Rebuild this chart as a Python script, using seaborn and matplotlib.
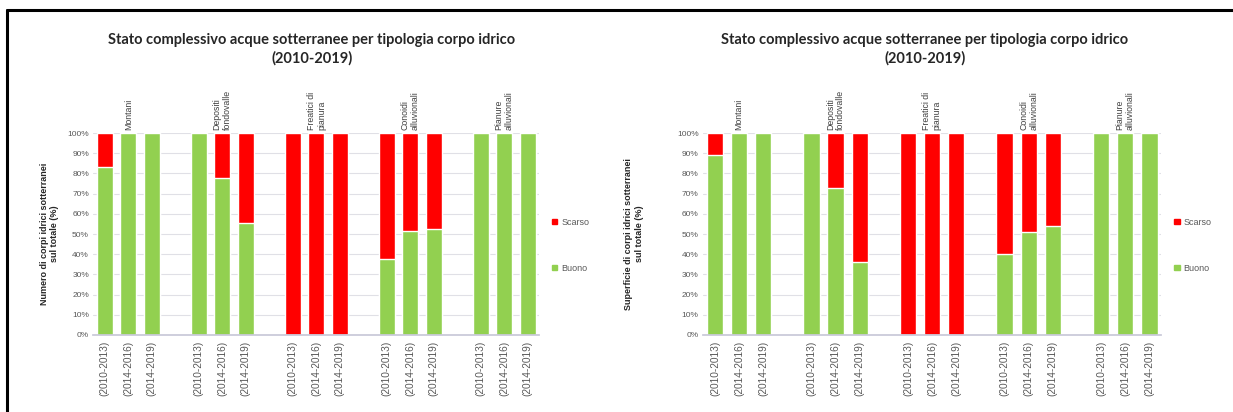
import pandas as pd
import seaborn as sns
import matplotlib.pyplot as plt
from matplotlib.patches import Patch
from matplotlib.lines import Line2D

sns.set_theme(style="white")
plt.rcParams["font.family"] = ["Liberation Sans", "DejaVu Sans"]

# dati (% di corpi idrici in stato "Buono")
tipologie = ["Montani", "Depositi\nfondovalle", "Freatici di\npianura",
             "Conoidi\nalluvionali", "Pianure\nalluvionali"]
periodi = ["(2010-2013)", "(2014-2016)", "(2014-2019)"]
buono_numero = [83.3, 100, 100, 100, 77.8, 55.6, 0, 0, 0, 37.5, 51.5, 52.6, 100, 100, 100]
buono_superficie = [89, 100, 100, 100, 73, 36, 0, 0, 0, 40, 51, 54, 100, 100, 100]
totale = 100

titolo = "Stato complessivo acque sotterranee per tipologia corpo idrico\n(2010-2019)"
ylabel_numero = "Numero di corpi idrici sotterranei\nsul totale (%)"
ylabel_superficie = "Superficie di corpi idrici sotterranei\nsul totale (%)"

ROSSO = "#FF0000"
VERDE = "#92D050"
GRIGIO = "#595959"


def build_df(buono):
    rows = []
    order = []
    for i, tip in enumerate(tipologie):
        for j, per in enumerate(periodi):
            slot = f"{i}-{j}"
            order.append(slot)
            rows.append(dict(slot=slot, tipologia=tip, periodo=per,
                             buono=buono[i * 3 + j], totale=totale))
        if i < len(tipologie) - 1:
            order.append(f"gap{i}")
    return pd.DataFrame(rows), order


def draw_panel(ax, buono, ylabel, labelpad):
    df, order = build_df(buono)
    sns.barplot(df, x="slot", y="totale", order=order, color=ROSSO,
                saturation=1, width=0.68, ax=ax, errorbar=None)
    sns.barplot(df, x="slot", y="buono", order=order, color=VERDE,
                saturation=1, width=0.68, ax=ax, errorbar=None)
    pos = [order.index(s) for s in df["slot"]]
    ax.set_xticks(pos, df["periodo"], rotation=90, fontsize=7.3, color=GRIGIO)
    ax.set_xlim(-0.5, len(order) - 0.5)
    ax.set_ylim(0, 100)
    ax.set_yticks(range(0, 101, 10), [f"{v}%" for v in range(0, 101, 10)],
                  fontsize=6, color=GRIGIO)
    ax.yaxis.grid(True, color="#E0E0E6", lw=0.8)
    ax.set_axisbelow(True)
    for s in ["top", "right", "left"]:
        ax.spines[s].set_visible(False)
    ax.spines["bottom"].set_color("#C8C8D8")
    ax.tick_params(axis="x", length=0, pad=4)
    ax.tick_params(axis="y", length=0, pad=3)
    ax.set_xlabel("")
    ax.set_ylabel(ylabel, fontsize=6.5, fontweight="bold", labelpad=labelpad)
    # etichette tipologia sopra la barra centrale di ogni gruppo
    for i, tip in enumerate(tipologie):
        ax.text(order.index(f"{i}-1"), 101.5, tip, rotation=90, ha="center",
                va="bottom", multialignment="left", fontsize=6.3, color="#404040")
    handles = [Patch(color=ROSSO, label="Scarso"), Patch(color=VERDE, label="Buono")]
    ax.legend(handles=handles, loc="center left", bbox_to_anchor=(1.01, 0.445),
              frameon=False, handlelength=0.6, handleheight=0.6,
              handletextpad=0.4, labelspacing=4.1, fontsize=6.5,
              labelcolor=GRIGIO)


fig = plt.figure(figsize=(12.33, 4.12), dpi=100)
ax1 = fig.add_axes([0.0755, 0.187, 0.362, 0.49])
ax2 = fig.add_axes([0.570, 0.187, 0.372, 0.49])
draw_panel(ax1, buono_numero, ylabel_numero, 6)
draw_panel(ax2, buono_superficie, ylabel_superficie, 24)

for xc in [0.253, 0.750]:
    fig.text(xc, 0.880, titolo, ha="center", va="center", fontsize=10.5,
             fontweight="bold", family=["Lato", "DejaVu Sans"], color="#262626",
             linespacing=1.35)

# cornice nera (lati superiore e sinistro)
fig.add_artist(Line2D([0.006, 1.0], [0.975, 0.975], color="black", lw=2.2,
                      transform=fig.transFigure))
fig.add_artist(Line2D([0.006, 0.006], [0.0, 0.975], color="black", lw=2.2,
                      transform=fig.transFigure))

fig.savefig("out.png", dpi=100)
